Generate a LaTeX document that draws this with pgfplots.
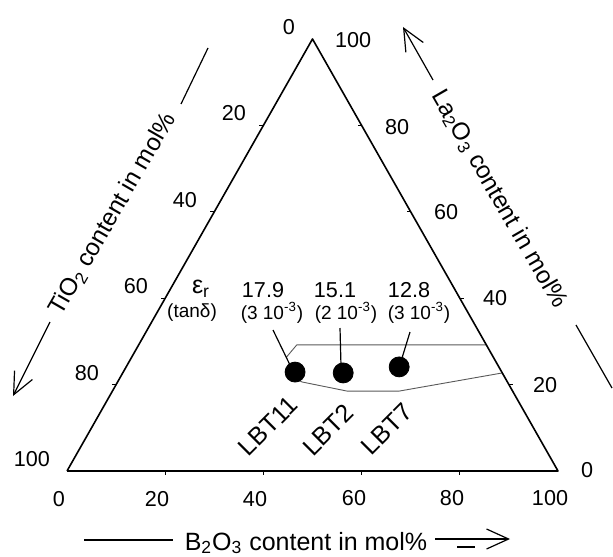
\documentclass[border=0pt]{standalone}
\usepackage{fontspec}
\setmainfont{Liberation Sans}
\usepackage{pgfplots}
\usepackage{pgfplotstable}
\pgfplotsset{compat=1.18}
\usetikzlibrary{arrows.meta}

% ternary data: B = B2O3, La = La2O3 (TiO2 = 100 - B - La), in mol%
\pgfplotstableread{
B La
0 0
100 0
0 100
0 0
}\tridata

\pgfplotstableread{
B La u v
20 0 0 4
40 0 0 4
60 0 0 4
80 0 0 4
0 20 -4 0
0 40 -4 0
0 60 -4 0
0 80 -4 0
20 80 -4 0
40 60 -4 0
60 40 4 0
80 20 4 0
}\tickdata

\pgfplotstableread{
name B La Ti
LBT11 35.0 22.9 42.1
LBT2 44.9 22.7 32.4
LBT7 55.6 24.1 20.3
}\samples

\pgfplotstableread{
B La
31.5 26.3
32.2 29.2
70.8 29.2
}\upperb

\pgfplotstableread{
B La
35.5 21.5
37.6 20.6
47.8 18.5
58.4 18.5
77.3 22.7
}\lowerb

\newcommand{\TX}{67+4.91*(\thisrow{B}+0.5*\thisrow{La})}
\newcommand{\TY}{471-4.32*\thisrow{La}}

\begin{document}
\begin{tikzpicture}
\begin{axis}[name=ax,
  xmin=0, xmax=613, ymin=0, ymax=556, y dir=reverse,
  width=306.5pt, height=278pt, scale only axis,
  hide axis, clip=false]

% boundary of region
\addplot[gray!70!black, line width=0.45pt] table[x expr=\TX, y expr=\TY] {\upperb};
\addplot[gray!70!black, line width=0.45pt] table[x expr=\TX, y expr=\TY] {\lowerb};

% triangle
\addplot[black, line width=0.8pt, line join=round] table[x expr=\TX, y expr=\TY] {\tridata};
% ticks
\addplot[black, line width=0.6pt, quiver={u=\thisrow{u}, v=\thisrow{v}}] table[x expr=\TX, y expr=\TY] {\tickdata};

% samples
\addplot[only marks, mark=*, mark size=5pt, black] table[x expr=\TX, y expr=\TY] {\samples};

% tick labels: left (TiO2)
\begin{scope}[font=\fontsize{10.8}{12}\selectfont]
\node[anchor=east] at (axis cs:302,27) {0};
\node[anchor=east] at (axis cs:253,113) {20};
\node[anchor=east] at (axis cs:204,200) {40};
\node[anchor=east] at (axis cs:155,286) {60};
\node[anchor=east] at (axis cs:106,373) {80};
\node[anchor=east] at (axis cs:57,459) {100};
% right (La2O3)
\node[anchor=west] at (axis cs:328,40) {100};
\node[anchor=west] at (axis cs:378,127) {80};
\node[anchor=west] at (axis cs:427,212) {60};
\node[anchor=west] at (axis cs:476,298) {40};
\node[anchor=west] at (axis cs:526,385) {20};
\node[anchor=west] at (axis cs:574,470) {0};
% bottom (B2O3)
\node at (axis cs:59,499) {0};
\node at (axis cs:157,499) {20};
\node at (axis cs:255,499) {40};
\node at (axis cs:354,498) {60};
\node at (axis cs:452,498) {80};
\node at (axis cs:550,498) {100};
\end{scope}

% axis labels
\node[anchor=base, font=\fontsize{12.5}{14}\selectfont] at (axis cs:306,550) {B\textsubscript{2}O\textsubscript{3} content in mol\%};
\begin{scope}[font=\fontsize{12.2}{14}\selectfont]
\node[rotate=60] at (axis cs:113,214) {TiO\textsubscript{2} content in mol\%};
\node[rotate=-60] at (axis cs:499,199) {La\textsubscript{2}O\textsubscript{3} content in mol\%};
\end{scope}
\draw[line width=0.6pt] (axis cs:181,104) -- (axis cs:208,48);
\draw[line width=0.6pt] (axis cs:84,540) -- (axis cs:173,540);
\draw[line width=0.6pt, -{Straight Barb[length=11pt,width=10pt]}] (axis cs:435,539) -- (axis cs:510,539);
\draw[line width=0.6pt] (axis cs:457,547) -- (axis cs:475,547);
\draw[line width=0.6pt, -{Straight Barb[length=11pt,width=10pt]}] (axis cs:50,322) -- (axis cs:13,396);
\draw[line width=0.6pt, -{Straight Barb[length=11pt,width=10pt]}] (axis cs:433,80) -- (axis cs:403,27);
\draw[line width=0.6pt] (axis cs:576,325) -- (axis cs:612,388);

% annotations
\node[font=\fontsize{12.5}{14}\selectfont] at (axis cs:201,289) {ε\textsubscript{r}};
\begin{scope}[font=\fontsize{10.8}{12}\selectfont]
\node at (axis cs:263,290) {17.9};
\node at (axis cs:335,290) {15.1};
\node at (axis cs:409,290) {12.8};
\end{scope}
\begin{scope}[font=\fontsize{9.5}{11}\selectfont]
\node at (axis cs:192,313) {(tanδ)};
\node at (axis cs:272,313) {(3 10\textsuperscript{-3})};
\node at (axis cs:346,313) {(2 10\textsuperscript{-3})};
\node at (axis cs:419,313) {(3 10\textsuperscript{-3})};
\end{scope}
\draw[line width=0.6pt] (axis cs:273,330) -- (axis cs:290,365);
\draw[line width=0.6pt] (axis cs:340,328) -- (axis cs:341,366);
\draw[line width=0.6pt] (axis cs:410,332) -- (axis cs:402,358);

\begin{scope}[font=\fontsize{12.5}{14}\selectfont]
\node[rotate=45] at (axis cs:268,426) {LBT11};
\node[rotate=45] at (axis cs:328,430) {LBT2};
\node[rotate=45] at (axis cs:387,429) {LBT7};
\end{scope}

\end{axis}
\pgfresetboundingbox
\path (ax.south west) rectangle (ax.north east);
\end{tikzpicture}
\end{document}
